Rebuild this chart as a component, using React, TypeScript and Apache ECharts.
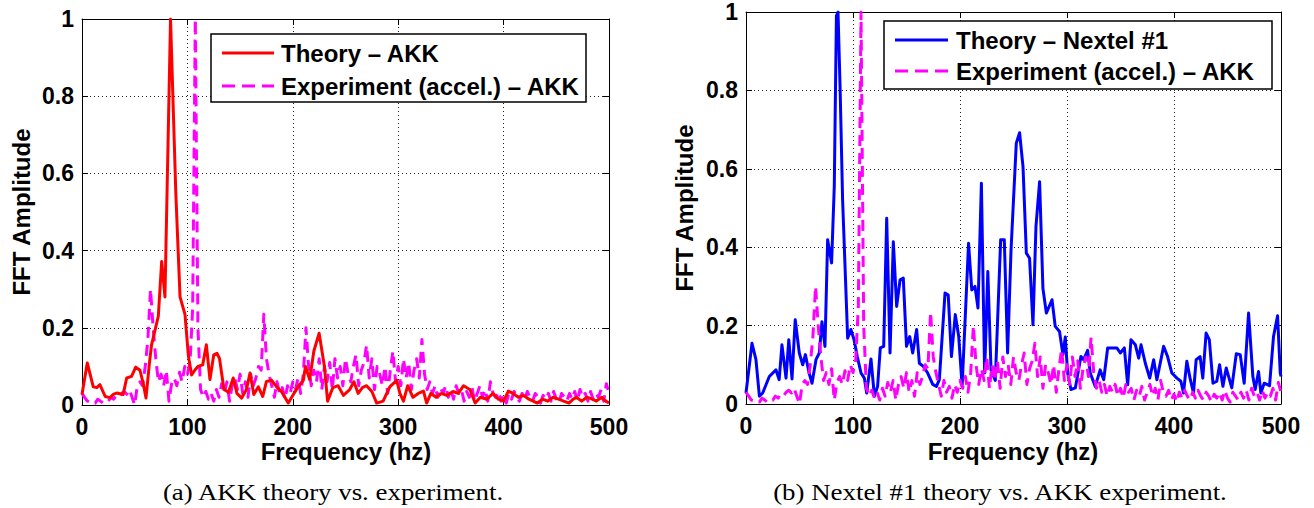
import React, { useEffect, useRef } from "react";
import * as echarts from "echarts";

// ---------------- DATA ----------------
// Theory – AKK (left panel), frequency (Hz) and normalised FFT amplitude
const theoryAkkFreq = [
  0, 5, 10.7, 14, 17, 22, 26.5, 30, 33, 39, 42.4, 47, 51, 55, 58, 60.7, 64, 66, 72.4, 75.6,
  78.7, 84, 89, 93, 97.7, 101, 104, 107, 110, 114.5, 118, 121.4, 125, 128, 130.5, 134.7, 139,
  143.5, 147, 151.5, 156, 159.4, 163, 167.3, 171.5, 175, 180, 184.7, 189.5, 195.7, 200.5, 205,
  210, 212, 216, 220, 225, 230, 233, 238, 243, 248, 254, 258, 262, 266, 270, 275, 279.6, 285.7,
  292, 298.6, 301.6, 305, 309, 314, 319, 324, 327, 331, 336, 341, 346, 352, 357, 362, 368, 373,
  378, 384, 390, 395, 400, 404.5, 409, 414, 419, 424, 428, 432, 437, 442, 447, 452, 457, 462,
  466, 469, 474, 479, 484, 488, 493, 497, 500,
];
const theoryAkkAmp = [
  0.027, 0.109, 0.047, 0.045, 0.053, 0.022, 0.019, 0.028, 0.031, 0.027, 0.07, 0.074, 0.098, 0.09,
  0.057, 0.018, 0.109, 0.156, 0.23, 0.372, 0.28, 1.0, 0.55, 0.28, 0.235, 0.126, 0.078, 0.09, 0.1,
  0.104, 0.156, 0.066, 0.13, 0.134, 0.12, 0.04, 0.033, 0.07, 0.03, 0.018, 0.04, 0.083, 0.027,
  0.047, 0.022, 0.061, 0.064, 0.047, 0.034, 0.005, 0.027, 0.047, 0.064, 0.1, 0.066, 0.14, 0.186,
  0.1, 0.01, 0.045, 0.05, 0.025, 0.04, 0.06, 0.03, 0.045, 0.05, 0.035, 0.005, 0.01, 0.047, 0.064,
  0.03, 0.01, 0.05, 0.02, 0.03, 0.036, 0.005, 0.03, 0.02, 0.03, 0.025, 0.035, 0.03, 0.05, 0.04,
  0.005, 0.02, 0.015, 0.03, 0.015, 0.01, 0.036, 0.03, 0.02, 0.025, 0.015, 0.01, 0.005, 0.015,
  0.01, 0.02, 0.015, 0.01, 0.005, 0.015, 0.02, 0.01, 0.02, 0.015, 0.01, 0.02, 0.01, 0.005,
];

// Theory – Nextel #1 (right panel)
const theoryNextelFreq = [
  0, 5.6, 9.3, 12.5, 15.6, 21.8, 28, 31, 33.6, 37.4, 40, 43, 46, 49.8, 53, 55.5, 59, 61.7, 65.4,
  68.5, 71, 73.8, 76.3, 77.9, 80, 82.5, 84.5, 86, 88, 90.3, 95, 98, 101, 104, 107.5, 110.6, 112.8,
  116.8, 120, 123, 125.5, 128.7, 131.5, 134.6, 137.7, 140.8, 144, 147, 150, 153, 155.8, 159.5,
  162, 165.7, 169.8, 174.5, 178, 180.7, 186, 189, 192, 195.6, 198.8, 202, 208, 211, 214, 216.8,
  220, 223, 226, 229, 233, 238, 241.4, 244.5, 247.7, 252.6, 255.7, 258.9, 262, 265, 268.2, 271,
  274.4, 277.5, 280.7, 286, 289, 293, 296.2, 298.4, 300.6, 303.7, 307.8, 313, 315.5, 319.3, 321.7,
  326.4, 331, 334.3, 338, 346.7, 349.8, 353.6, 356.7, 359.8, 363.9, 367, 369.2, 373.2, 377.3, 381,
  384, 390.3, 394, 398, 402.7, 406.4, 408.9, 412, 415, 418.2, 420.7, 424.4, 426.9, 430, 433,
  436.4, 440, 442.6, 445.7, 448.8, 454, 458.2, 461.9, 465.6, 469.7, 473.7, 475.9, 479, 481.2,
  484.3, 489.3, 493, 496.8, 499.3, 500,
];
const theoryNextelAmp = [
  0.028, 0.155, 0.113, 0.02, 0.028, 0.07, 0.087, 0.062, 0.151, 0.066, 0.164, 0.064, 0.215, 0.13,
  0.1, 0.126, 0.079, 0.053, 0.113, 0.13, 0.21, 0.147, 0.419, 0.393, 0.36, 0.555, 0.99, 1.0, 0.8,
  0.52, 0.168, 0.19, 0.164, 0.121, 0.079, 0.066, 0.028, 0.115, 0.02, 0.045, 0.143, 0.147, 0.474,
  0.13, 0.414, 0.249, 0.317, 0.321, 0.147, 0.172, 0.13, 0.19, 0.104, 0.096, 0.079, 0.05, 0.045,
  0.062, 0.283, 0.278, 0.121, 0.228, 0.172, 0.045, 0.41, 0.291, 0.3, 0.245, 0.563, 0.079, 0.338,
  0.087, 0.06, 0.419, 0.419, 0.13, 0.393, 0.665, 0.692, 0.605, 0.385, 0.372, 0.202, 0.453, 0.567,
  0.295, 0.232, 0.266, 0.198, 0.185, 0.126, 0.171, 0.079, 0.037, 0.041, 0.121, 0.113, 0.137,
  0.079, 0.045, 0.087, 0.062, 0.143, 0.143, 0.13, 0.143, 0.049, 0.164, 0.151, 0.117, 0.151, 0.104,
  0.066, 0.113, 0.062, 0.147, 0.121, 0.079, 0.066, 0.058, 0.028, 0.109, 0.066, 0.028, 0.113,
  0.121, 0.066, 0.181, 0.164, 0.053, 0.058, 0.1, 0.045, 0.092, 0.041, 0.128, 0.126, 0.053, 0.232,
  0.07, 0.037, 0.083, 0.028, 0.053, 0.047, 0.172, 0.225, 0.079, 0.07,
];

// Experiment (accel.) – AKK, sampled every 2.5 Hz from 0 to 500 Hz (both panels)
const EXP_STEP_HZ = 2.5;
const experimentAkkAmp = [
  0.03, 0.02, 0.01, 0.008, 0.01, 0.005, 0.015, 0.01, 0.005, 0.012,
  0.01, 0.02, 0.015, 0.025, 0.02, 0.03, 0.035, 0.028, 0.04, 0.02,
  0.0, 0.05, 0.06, 0.05, 0.1, 0.17, 0.3, 0.2, 0.12, 0.06,
  0.08, 0.05, 0.09, 0.01, 0.055, 0.07, 0.05, 0.085, 0.06, 0.1,
  0.08, 0.11, 0.25, 1.0, 0.2, 0.04, 0.02, 0.035, 0.015, 0.03,
  0.01, 0.04, 0.02, 0.055, 0.03, 0.06, 0.01, 0.05, 0.07, 0.04,
  0.08, 0.03, 0.06, 0.02, 0.08, 0.05, 0.07, 0.1, 0.09, 0.235,
  0.12, 0.08, 0.05, 0.02, 0.06, 0.03, 0.045, 0.015, 0.05, 0.03,
  0.06, 0.04, 0.07, 0.03, 0.08, 0.2, 0.1, 0.05, 0.09, 0.06,
  0.12, 0.04, 0.1, 0.06, 0.11, 0.04, 0.12, 0.07, 0.1, 0.05,
  0.12, 0.08, 0.06, 0.1, 0.13, 0.05, 0.09, 0.11, 0.155, 0.07,
  0.12, 0.04, 0.1, 0.08, 0.05, 0.1, 0.03, 0.09, 0.14, 0.06,
  0.1, 0.05, 0.12, 0.07, 0.11, 0.04, 0.09, 0.12, 0.07, 0.17,
  0.08, 0.04, 0.06, 0.03, 0.05, 0.02, 0.045, 0.03, 0.05, 0.02,
  0.04, 0.015, 0.05, 0.03, 0.04, 0.01, 0.035, 0.02, 0.045, 0.01,
  0.03, 0.05, 0.02, 0.04, 0.01, 0.06, 0.03, 0.02, 0.035, 0.01,
  0.025, 0.005, 0.03, 0.015, 0.035, 0.02, 0.01, 0.03, 0.015, 0.035,
  0.02, 0.01, 0.03, 0.02, 0.005, 0.025, 0.015, 0.03, 0.01, 0.035,
  0.015, 0.005, 0.03, 0.02, 0.01, 0.03, 0.015, 0.035, 0.01, 0.04,
  0.02, 0.03, 0.01, 0.035, 0.015, 0.03, 0.02, 0.04, 0.01, 0.055,
  0.03,
];

const xTicks = [0, 100, 200, 300, 400, 500];
const yTicks = [0, 0.2, 0.4, 0.6, 0.8, 1];

const legendLeft = ["Theory – AKK", "Experiment (accel.) – AKK"];
const legendRight = ["Theory – Nextel #1", "Experiment (accel.) – AKK"];
const xTitle = "Frequency (hz)";
const yTitle = "FFT Amplitude";
const captionLeft = "(a) AKK theory vs. experiment.";
const captionRight = "(b) Nextel #1 theory vs. AKK experiment.";

// ---------------- STYLE ----------------
const SANS = "'Liberation Sans', Arial, Helvetica, sans-serif";
const SERIF = "'Liberation Serif', 'Times New Roman', serif";
const RED = "#ff0000";
const BLUE = "#0000ff";
const MAGENTA = "#ff00ff";
const DASH = [11, 7];

const pairs = (xs: number[], ys: number[]) => ys.map((y, i) => [xs[i], y]);
const experimentPairs = experimentAkkAmp.map((y, i) => [i * EXP_STEP_HZ, y]);

function mainXAxis(gridIndex: number) {
  return {
    type: "value",
    gridIndex,
    min: xTicks[0],
    max: xTicks[xTicks.length - 1],
    interval: xTicks[1] - xTicks[0],
    axisLine: { show: true, onZero: false, lineStyle: { color: "#000", width: 1 } },
    axisTick: { show: true, inside: true, length: 6, lineStyle: { color: "#000" } },
    axisLabel: {
      show: true,
      margin: 10,
      color: "#000",
      fontFamily: SANS,
      fontWeight: "bold",
      fontSize: 23,
    },
    splitLine: { show: true, lineStyle: { color: "#222", width: 1, type: [1, 3] } },
  };
}
function mirrorXAxis(gridIndex: number) {
  return {
    type: "value",
    gridIndex,
    position: "top",
    min: xTicks[0],
    max: xTicks[xTicks.length - 1],
    interval: xTicks[1] - xTicks[0],
    axisLine: { show: true, onZero: false, lineStyle: { color: "#000", width: 1 } },
    axisTick: { show: true, inside: true, length: 6, lineStyle: { color: "#000" } },
    axisLabel: { show: false },
    splitLine: { show: false },
  };
}
function mainYAxis(gridIndex: number) {
  return {
    type: "value",
    gridIndex,
    min: yTicks[0],
    max: yTicks[yTicks.length - 1],
    interval: 0.2,
    axisLine: { show: true, onZero: false, lineStyle: { color: "#000", width: 1 } },
    axisTick: { show: true, inside: true, length: 6, lineStyle: { color: "#000" } },
    axisLabel: {
      show: true,
      margin: 8,
      color: "#000",
      fontFamily: SANS,
      fontWeight: "bold",
      fontSize: 23,
      formatter: (v: number) => String(Math.round(v * 10) / 10),
    },
    splitLine: { show: true, lineStyle: { color: "#222", width: 1, type: [1, 3] } },
  };
}
function mirrorYAxis(gridIndex: number) {
  return {
    type: "value",
    gridIndex,
    position: "right",
    min: yTicks[0],
    max: yTicks[yTicks.length - 1],
    interval: 0.2,
    axisLine: { show: true, onZero: false, lineStyle: { color: "#000", width: 1 } },
    axisTick: { show: true, inside: true, length: 6, lineStyle: { color: "#000" } },
    axisLabel: { show: false },
    splitLine: { show: false },
  };
}

function lineSeries(name: string, data: number[][], color: string, dashed: boolean, axisIdx: number, z: number) {
  return {
    type: "line",
    name,
    data,
    xAxisIndex: axisIdx,
    yAxisIndex: axisIdx,
    showSymbol: false,
    symbol: "none",
    clip: true,
    z,
    lineStyle: { color, width: 3, type: dashed ? DASH : "solid", join: "round", cap: "butt" },
    emphasis: { disabled: true },
  };
}

function legendBox(x: number, y: number, w: number, h: number, lineX1: number, lineX2: number, textX: number, row1: number, row2: number, labels: string[], color1: string) {
  const font = `bold 24px ${SANS}`;
  return [
    { type: "rect", z: 100, shape: { x, y, width: w, height: h }, style: { fill: "#fff", stroke: "#000", lineWidth: 1.5 } },
    { type: "line", z: 101, shape: { x1: lineX1, y1: row1, x2: lineX2, y2: row1 }, style: { stroke: color1, lineWidth: 3 } },
    { type: "text", z: 101, x: textX, y: row1, style: { text: labels[0], font, fill: "#000", textAlign: "left", textVerticalAlign: "middle" } },
    { type: "line", z: 101, shape: { x1: lineX1, y1: row2, x2: lineX2, y2: row2 }, style: { stroke: MAGENTA, lineWidth: 3, lineDash: [13, 7] } },
    { type: "text", z: 101, x: textX, y: row2, style: { text: labels[1], font, fill: "#000", textAlign: "left", textVerticalAlign: "middle" } },
  ];
}

export default function App() {
  const ref = useRef<HTMLDivElement>(null);

  useEffect(() => {
    if (!ref.current) return;
    const chart = echarts.init(ref.current, undefined, { renderer: "svg" });
    const titleFont = `bold 24px ${SANS}`;
    const capFont = `24px ${SERIF}`;

    chart.setOption({
      animation: false,
      backgroundColor: "#fff",
      grid: [
        { left: 82, top: 19, width: 527, height: 386, show: false },
        { left: 746, top: 12, width: 535, height: 392, show: false },
      ],
      xAxis: [mainXAxis(0), mirrorXAxis(0), mainXAxis(1), mirrorXAxis(1)],
      yAxis: [mainYAxis(0), mirrorYAxis(0), mainYAxis(1), mirrorYAxis(1)],
      series: [
        lineSeries(legendLeft[0], pairs(theoryAkkFreq, theoryAkkAmp), RED, false, 0, 3),
        lineSeries(legendLeft[1], experimentPairs, MAGENTA, true, 0, 2),
        lineSeries(legendRight[0], pairs(theoryNextelFreq, theoryNextelAmp), BLUE, false, 2, 2),
        lineSeries(legendRight[1], experimentPairs, MAGENTA, true, 2, 3),
      ],
      graphic: [
        ...legendBox(211, 34, 375, 68, 222, 274, 281, 53, 86, legendLeft, RED),
        ...legendBox(884, 21, 388, 68, 895, 948, 956, 40, 71, legendRight, BLUE),
        { type: "text", x: 346, y: 451, style: { text: xTitle, font: titleFont, fill: "#000", textAlign: "center", textVerticalAlign: "middle" } },
        { type: "text", x: 1013, y: 451, style: { text: xTitle, font: titleFont, fill: "#000", textAlign: "center", textVerticalAlign: "middle" } },
        { type: "text", x: 21, y: 212, rotation: Math.PI / 2, style: { text: yTitle, font: titleFont, fill: "#000", textAlign: "center", textVerticalAlign: "middle" } },
        { type: "text", x: 684, y: 208, rotation: Math.PI / 2, style: { text: yTitle, font: titleFont, fill: "#000", textAlign: "center", textVerticalAlign: "middle" } },
        { type: "text", x: 333, y: 492, scaleX: 1.12, style: { text: captionLeft, font: capFont, fill: "#000", textAlign: "center", textVerticalAlign: "middle" } },
        { type: "text", x: 1000, y: 492, scaleX: 1.12, style: { text: captionRight, font: capFont, fill: "#000", textAlign: "center", textVerticalAlign: "middle" } },
      ],
    });
    return () => chart.dispose();
  }, []);

  return (
    <div
      ref={ref}
      style={{ position: "fixed", left: 0, top: 0, width: 1314, height: 508, background: "#fff" }}
    />
  );
}
